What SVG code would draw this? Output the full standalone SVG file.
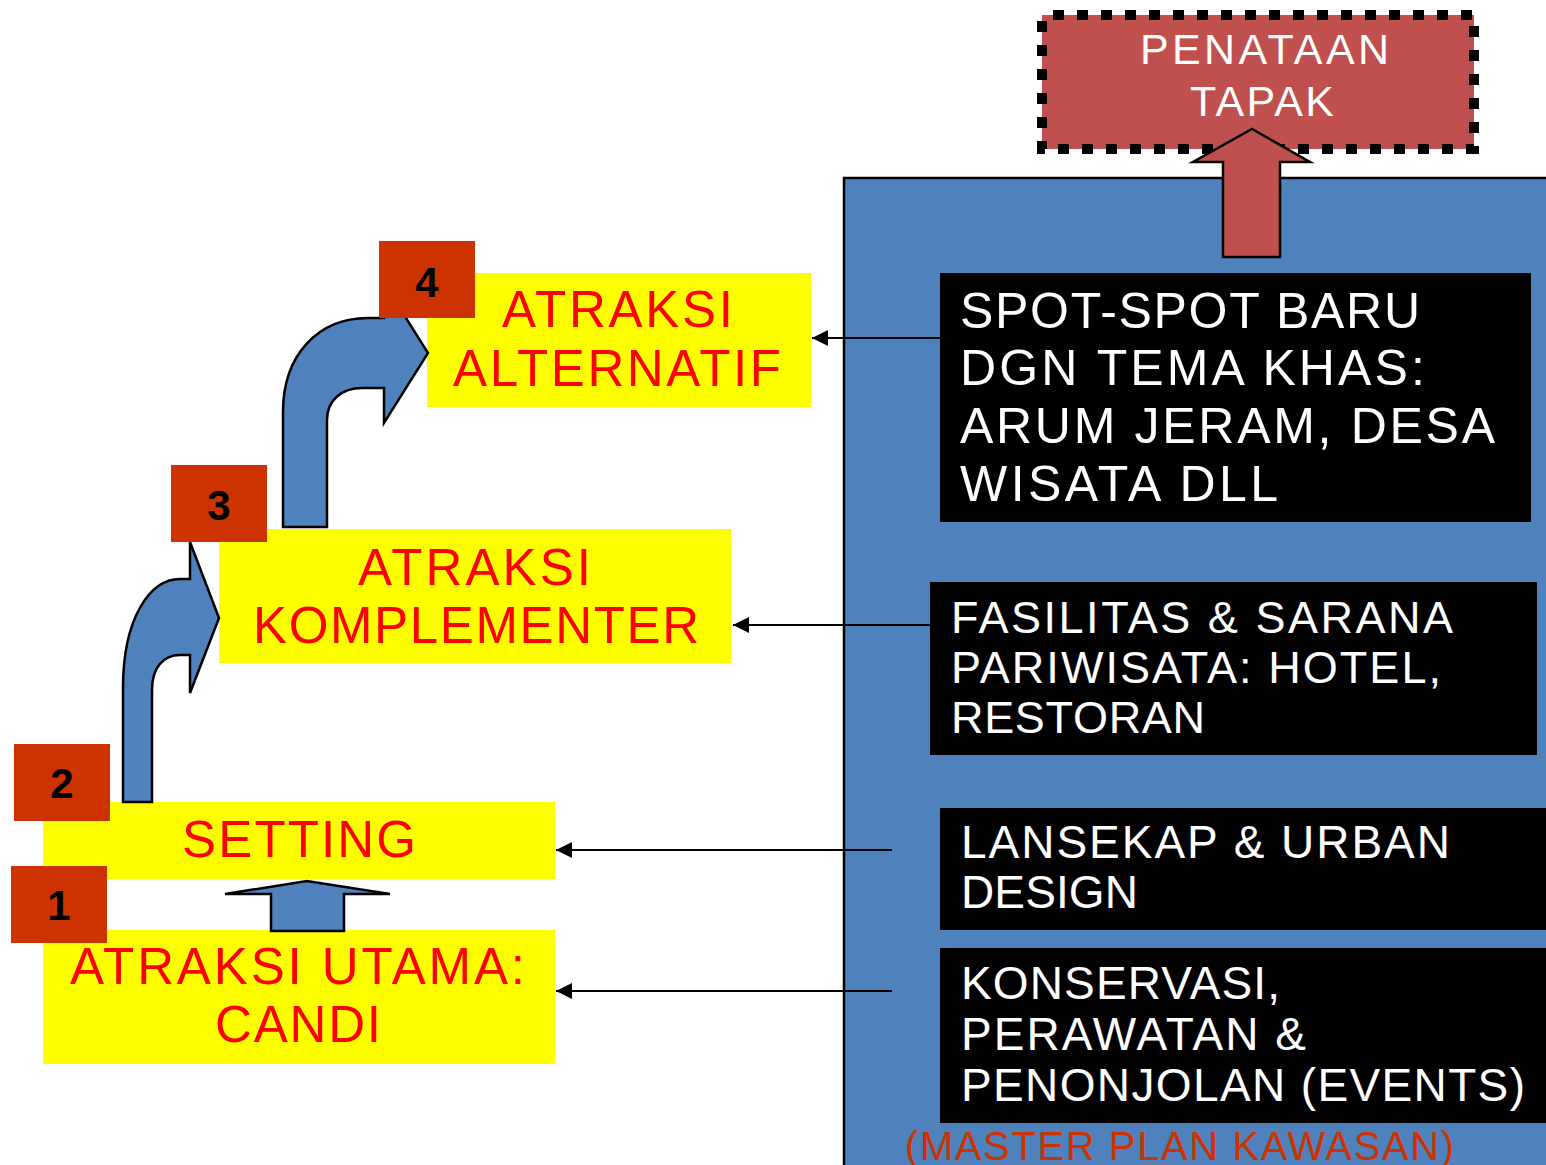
<svg xmlns="http://www.w3.org/2000/svg" width="1546" height="1165" viewBox="0 0 1546 1165">
  <style>
    .yel { fill: #FFFF00; }
    .ytxt { font-family: "Liberation Sans", Arial, sans-serif; font-size: 51px; fill: #FF0000; }
    .num { fill: #CC3300; }
    .ntxt { font-family: "Liberation Sans", Arial, sans-serif; font-size: 42px; font-weight: bold; fill: #000; text-anchor: middle; }
    .blk { fill: #000; }
    .wtxt { font-family: "Liberation Sans", Arial, sans-serif; fill: #FFFFFF; }
    .big { font-size: 50px; }
    .mid { font-size: 46px; }
    .blue-arrow { fill: #4F81BD; stroke: #000; stroke-width: 2.5; stroke-linejoin: miter; }
    .conn { stroke: #000; stroke-width: 2.2; fill: none; marker-end: url(#head); }
  </style>
  <defs>
    <marker id="head" markerWidth="16" markerHeight="16" viewBox="0 0 16 16" refX="16" refY="8" orient="auto" markerUnits="userSpaceOnUse">
      <path d="M0,0 L16,8 L0,16 Z" fill="#000"/>
    </marker>
  </defs>

  <rect width="1546" height="1165" fill="#FFFFFF"/>

  <!-- master plan panel -->
  <g id="master-plan">
    <rect x="844" y="178" width="720" height="1010" fill="#4F81BD" stroke="#000" stroke-width="2.5"/>
    <text x="905" y="1160" textLength="549" lengthAdjust="spacing" font-family="Liberation Sans, Arial, sans-serif" font-size="40" fill="#CC3300">(MASTER PLAN KAWASAN)</text>
  </g>

  <!-- site arrangement box -->
  <g id="penataan-tapak">
    <rect x="1042" y="15" width="432" height="134" fill="#C0504D" stroke="#000" stroke-width="10" stroke-dasharray="11 13" stroke-dashoffset="-11"/>
    <text class="wtxt" x="1140" y="64" font-size="43" textLength="249" lengthAdjust="spacing">PENATAAN</text>
    <text class="wtxt" x="1190" y="116" font-size="43" textLength="144" lengthAdjust="spacing">TAPAK</text>
  </g>

  <!-- up arrow to the site arrangement box -->
  <g id="arrow-penataan">
    <path d="M1223,257 L1223,162 L1193,162 L1252,129 L1310,162 L1280,162 L1280,257 Z" fill="#C0504D" stroke="#000" stroke-width="2.5"/>
  </g>

  <!-- right-hand programme boxes -->
  <g id="spot-baru">
    <rect class="blk" x="940" y="273" width="591" height="249"/>
    <text class="wtxt big" x="960" y="328" textLength="460" lengthAdjust="spacing">SPOT-SPOT BARU</text>
    <text class="wtxt big" x="960" y="385" textLength="465" lengthAdjust="spacing">DGN TEMA KHAS:</text>
    <text class="wtxt big" x="960" y="443" textLength="535" lengthAdjust="spacing">ARUM JERAM, DESA</text>
    <text class="wtxt big" x="960" y="501" textLength="318" lengthAdjust="spacing">WISATA DLL</text>
  </g>
  <g id="fasilitas">
    <rect class="blk" x="930" y="582" width="607" height="173"/>
    <text class="wtxt" font-size="45" x="951" y="633" textLength="502" lengthAdjust="spacing">FASILITAS &amp; SARANA</text>
    <text class="wtxt" font-size="45" x="951" y="683" textLength="490" lengthAdjust="spacing">PARIWISATA: HOTEL,</text>
    <text class="wtxt" font-size="45" x="951" y="733" textLength="254" lengthAdjust="spacing">RESTORAN</text>
  </g>
  <g id="lansekap">
    <rect class="blk" x="940" y="808" width="610" height="122"/>
    <text class="wtxt mid" x="961" y="858" textLength="489" lengthAdjust="spacing">LANSEKAP &amp; URBAN</text>
    <text class="wtxt mid" x="961" y="908" textLength="177" lengthAdjust="spacing">DESIGN</text>
  </g>
  <g id="konservasi">
    <rect class="blk" x="940" y="948" width="610" height="175"/>
    <text class="wtxt mid" x="961" y="999" textLength="319" lengthAdjust="spacing">KONSERVASI,</text>
    <text class="wtxt mid" x="961" y="1050" textLength="345" lengthAdjust="spacing">PERAWATAN &amp;</text>
    <text class="wtxt mid" x="961" y="1101" textLength="564" lengthAdjust="spacing">PENONJOLAN (EVENTS)</text>
  </g>

  <!-- attraction boxes -->
  <g id="atraksi-alternatif">
    <rect class="yel" x="427" y="273" width="384" height="134"/>
    <text class="ytxt" x="502" y="327" textLength="231" lengthAdjust="spacing">ATRAKSI</text>
    <text class="ytxt" x="453" y="386" textLength="328" lengthAdjust="spacing">ALTERNATIF</text>
  </g>
  <g id="atraksi-komplementer">
    <rect class="yel" x="219" y="529" width="512" height="134"/>
    <text class="ytxt" x="358" y="585" textLength="233" lengthAdjust="spacing">ATRAKSI</text>
    <text class="ytxt" x="253" y="643" textLength="446" lengthAdjust="spacing">KOMPLEMENTER</text>
  </g>
  <g id="setting">
    <rect class="yel" x="43" y="802" width="512" height="77"/>
    <text class="ytxt" x="182" y="857" textLength="234" lengthAdjust="spacing">SETTING</text>
  </g>
  <g id="atraksi-utama">
    <rect class="yel" x="43" y="930" width="512" height="134"/>
    <text class="ytxt" x="70" y="984" textLength="455" lengthAdjust="spacing">ATRAKSI UTAMA:</text>
    <text class="ytxt" x="215" y="1042" textLength="166" lengthAdjust="spacing">CANDI</text>
  </g>

  <!-- progression arrows between attraction levels -->
  <g id="step-arrows">
    <path class="blue-arrow" d="M271,931 L271,894 L225,894 L307,881 L390,894 L344,894 L344,931 Z"/>
    <path class="blue-arrow" d="M123,802 L123,688 C123,618 150,579 180,579 L190,579 L190,542 L219,618 L190,693 L190,655 L180,655 C163,655 152,668 152,690 L152,802 Z"/>
    <path class="blue-arrow" d="M283,527 L283,412 C283,355 318,318 368,318 L384,318 L384,283 L428,353 L384,423 L384,388 L362,388 C342,388 327,400 327,420 L327,527 Z"/>
  </g>

  <!-- step numbers -->
  <g id="num-4"><rect class="num" x="379" y="241" width="96" height="77"/><text class="ntxt" x="427" y="297">4</text></g>
  <g id="num-3"><rect class="num" x="171" y="465" width="96" height="77"/><text class="ntxt" x="219" y="520">3</text></g>
  <g id="num-2"><rect class="num" x="14" y="744" width="96" height="77"/><text class="ntxt" x="62" y="798">2</text></g>
  <g id="num-1"><rect class="num" x="11" y="866" width="96" height="77"/><text class="ntxt" x="59" y="920">1</text></g>

  <!-- connectors from master plan items to attractions -->
  <g id="connectors">
    <line class="conn" x1="940" y1="338" x2="812" y2="338"/>
    <line class="conn" x1="930" y1="625" x2="733" y2="625"/>
    <line class="conn" x1="892" y1="850" x2="556" y2="850"/>
    <line class="conn" x1="892" y1="991" x2="556" y2="991"/>
  </g>
</svg>
